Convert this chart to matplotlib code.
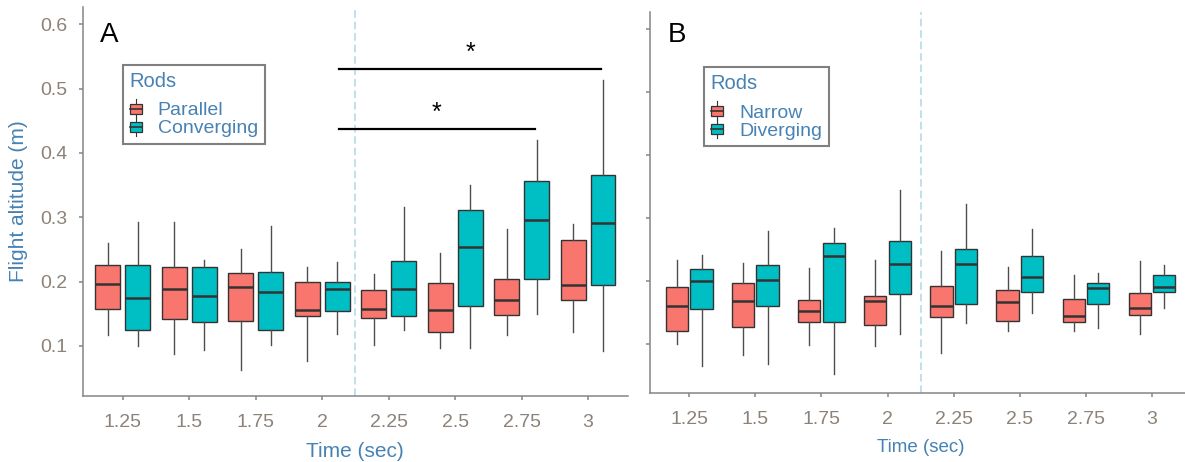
import numpy as np
import matplotlib
matplotlib.use("Agg")
import matplotlib.pyplot as plt
from matplotlib.patches import Patch, Rectangle
from matplotlib.lines import Line2D
from matplotlib.legend_handler import HandlerBase

plt.rcParams['font.family'] = ['Liberation Sans', 'DejaVu Sans']

times = ['1.25', '1.5', '1.75', '2', '2.25', '2.5', '2.75', '3']

# panel A - parallel rods
a_par_lo = [0.117, 0.088, 0.062, 0.076, 0.102, 0.096, 0.117, 0.121]
a_par_q1 = [0.158, 0.142, 0.139, 0.147, 0.143, 0.122, 0.148, 0.172]
a_par_med = [0.196, 0.189, 0.192, 0.156, 0.157, 0.156, 0.171, 0.195]
a_par_q3 = [0.225, 0.223, 0.213, 0.199, 0.187, 0.198, 0.204, 0.265]
a_par_hi = [0.260, 0.293, 0.250, 0.222, 0.212, 0.245, 0.281, 0.290]
# panel A - converging rods
a_con_lo = [0.099, 0.093, 0.101, 0.118, 0.125, 0.096, 0.150, 0.092]
a_con_q1 = [0.125, 0.137, 0.125, 0.154, 0.146, 0.162, 0.204, 0.195]
a_con_med = [0.175, 0.177, 0.183, 0.189, 0.188, 0.254, 0.296, 0.291]
a_con_q3 = [0.226, 0.222, 0.215, 0.199, 0.232, 0.311, 0.356, 0.365]
a_con_hi = [0.293, 0.234, 0.287, 0.231, 0.316, 0.350, 0.420, 0.514]
# panel B - narrow rods
b_nar_lo = [0.100, 0.083, 0.099, 0.097, 0.086, 0.120, 0.121, 0.116]
b_nar_q1 = [0.120, 0.127, 0.135, 0.130, 0.143, 0.137, 0.135, 0.146]
b_nar_med = [0.161, 0.168, 0.153, 0.168, 0.161, 0.167, 0.145, 0.157]
b_nar_q3 = [0.190, 0.197, 0.170, 0.176, 0.192, 0.185, 0.172, 0.181]
b_nar_hi = [0.234, 0.228, 0.221, 0.233, 0.248, 0.223, 0.209, 0.231]
# panel B - diverging rods
b_div_lo = [0.065, 0.068, 0.053, 0.116, 0.133, 0.149, 0.126, 0.157]
b_div_q1 = [0.155, 0.161, 0.135, 0.179, 0.163, 0.182, 0.163, 0.183]
b_div_med = [0.200, 0.201, 0.239, 0.227, 0.227, 0.206, 0.189, 0.191]
b_div_q3 = [0.219, 0.225, 0.261, 0.263, 0.251, 0.240, 0.197, 0.210]
b_div_hi = [0.242, 0.280, 0.284, 0.344, 0.322, 0.282, 0.213, 0.225]

# significance brackets in panel A: (x start, x end, y)
sig_x0 = [4.25, 4.25]
sig_x1 = [8.2, 7.2]
sig_y = [0.530, 0.4365]
sig_star_y = [0.545, 0.451]

RED = '#F8766D'
TEAL = '#00BFC4'
TICKCOL = '#8c8278'
TITLECOL = '#4682b4'
AXCOL = '#858585'


def stats(lo, q1, med, q3, hi):
    return [dict(whislo=lo[i], q1=q1[i], med=med[i], q3=q3[i], whishi=hi[i], fliers=[])
            for i in range(len(lo))]


def draw_boxes(ax, st, pos, w, color):
    ax.bxp(st, positions=pos, widths=w, patch_artist=True, showcaps=False,
           manage_ticks=False,
           boxprops=dict(facecolor=color, edgecolor='#333333', linewidth=1.0),
           medianprops=dict(color='#333333', linewidth=1.8),
           whiskerprops=dict(color='#4d4d4d', linewidth=1.0))


class BoxKey(HandlerBase):
    def create_artists(self, legend, orig_handle, xdescent, ydescent, width, height, fontsize, trans):
        bw = width
        bh = height * 0.75
        y0 = (height - bh) / 2 - ydescent
        x0 = -xdescent
        cx = x0 + bw / 2
        art = [
            Line2D([cx, cx], [y0 - 3, y0], color='#333333', lw=0.8, transform=trans),
            Line2D([cx, cx], [y0 + bh, y0 + bh + 3], color='#333333', lw=0.8, transform=trans),
            Rectangle((x0, y0), bw, bh, facecolor=orig_handle.get_facecolor(),
                      edgecolor='#333333', lw=0.9, transform=trans),
            Line2D([x0, x0 + bw], [y0 + bh / 2, y0 + bh / 2], color='#333333', lw=1.2, transform=trans),
        ]
        return art


def style(ax, xlim):
    ax.set_xlim(*xlim)
    ax.set_ylim(0.022, 0.627)
    for s in ['top', 'right']:
        ax.spines[s].set_visible(False)
    for s in ['left', 'bottom']:
        ax.spines[s].set_color(AXCOL)
        ax.spines[s].set_linewidth(1.1)
    ax.set_xticks(np.arange(1, 9))
    ax.set_xticklabels(times)
    ax.set_yticks([0.1, 0.2, 0.3, 0.4, 0.5, 0.6])
    ax.tick_params(axis='both', colors=AXCOL, length=3, width=1.1, labelcolor=TICKCOL, labelsize=14)
    ax.tick_params(axis='x', pad=10)
    ax.tick_params(axis='y', pad=8)
    ax.axvline(4.5, color='#add8e6', lw=1.1, ls=(0, (5, 2.5)), zorder=0)


fig = plt.figure(figsize=(11.85, 4.62), dpi=100)
axA = fig.add_axes([0.0700, 0.1429, 0.4599, 0.842])
axB = fig.add_axes([0.5485, 0.1487, 0.4571, 0.826])

x = np.arange(1, 9)

style(axA, (0.4, 8.6))
draw_boxes(axA, stats(a_par_lo, a_par_q1, a_par_med, a_par_q3, a_par_hi), x - 0.225, 0.375, RED)
draw_boxes(axA, stats(a_con_lo, a_con_q1, a_con_med, a_con_q3, a_con_hi), x + 0.225, 0.375, TEAL)
for i in range(2):
    axA.plot([sig_x0[i], sig_x1[i]], [sig_y[i], sig_y[i]], color='black', lw=1.6)
    axA.text((sig_x0[i] + sig_x1[i]) / 2, sig_star_y[i], '*', ha='center', va='baseline',
             fontsize=18, color='black')
axA.text(0.032, 0.928, 'A', transform=axA.transAxes, fontsize=20, ha='left', va='center')
axA.set_ylabel('Flight altitude (m)', color=TITLECOL, fontsize=15)
axA.yaxis.set_label_coords(-0.1, 0.5)
axA.set_xlabel('Time (sec)', color=TITLECOL, fontsize=15)
axA.xaxis.set_label_coords(0.499, -0.118)

style(axB, (0.405, 8.6))
axB.set_yticklabels([])
draw_boxes(axB, stats(b_nar_lo, b_nar_q1, b_nar_med, b_nar_q3, b_nar_hi), x - 0.185, 0.337, RED)
draw_boxes(axB, stats(b_div_lo, b_div_q1, b_div_med, b_div_q3, b_div_hi), x + 0.185, 0.337, TEAL)
axB.text(0.032, 0.939, 'B', transform=axB.transAxes, fontsize=20, ha='left', va='center')
axB.set_xlabel('Time (sec)', color=TITLECOL, fontsize=13.5)
axB.xaxis.set_label_coords(0.5, -0.121)


def add_legend(ax, labels, anchor):
    handles = [Patch(facecolor=RED), Patch(facecolor=TEAL)]
    leg = ax.legend(handles, labels, title='Rods', loc='upper left', bbox_to_anchor=anchor,
                    handler_map={Patch: BoxKey()}, fontsize=14, title_fontsize=14.5,
                    frameon=True, fancybox=False, edgecolor='#808080', framealpha=1,
                    handlelength=0.65, handleheight=0.7, handletextpad=0.8, labelspacing=0.02,
                    borderpad=0.35, alignment='left', borderaxespad=0)
    leg.get_frame().set_linewidth(1.5)
    leg.get_title().set_color(TITLECOL)
    for t in leg.get_texts():
        t.set_color(TITLECOL)
    leg._legend_box.sep = 8
    return leg


add_legend(axA, ['Parallel', 'Converging'], (0.073, 0.851))
add_legend(axB, ['Narrow', 'Diverging'], (0.0997, 0.855))

fig.savefig('out.png', dpi=100)
